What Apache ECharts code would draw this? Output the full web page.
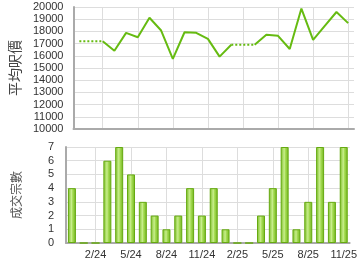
<!DOCTYPE html>
<html><head><meta charset="utf-8">
<script src="https://cdn.jsdelivr.net/npm/echarts@6/dist/echarts.min.js"></script>
<style>html,body{margin:0;padding:0;background:#fff}#c{width:360px;height:270px}</style>
</head><body><div id="c"></div>
<script>
var months = ['12/23','1/24','2/24','3/24','4/24','5/24','6/24','7/24','8/24','9/24','10/24','11/24','12/24','1/25','2/25','3/25','4/25','5/25','6/25','7/25','8/25','9/25','10/25','11/25'];
var avgPrice = [17200,null,17200,16420,17880,17520,19120,18070,15740,17930,17880,17390,15930,16900,null,16900,17720,17640,16560,19870,17310,18450,19590,18680];
var deals = [4,0,0,6,7,5,3,2,1,2,4,2,4,1,0,0,2,4,7,1,3,7,3,7];
var priceTicks = [10000,20000,1000];
var dealTicks = [0,7,1];

var green = '#66bb11';
var tickFn = function(i){ return (i - 2) % 3 === 0; };
var cjk = '"Noto Sans CJK TC","Noto Sans CJK SC",sans-serif';
var latin = 'Arial, "Liberation Sans", sans-serif';
var plain = function(v){ return String(v); };

// dotted connectors across gaps: one series per gap, only neighbours set
var gapSeries = [];
for (var i = 1; i < avgPrice.length - 1; i++) {
  if (avgPrice[i] === null && avgPrice[i-1] !== null) {
    var j = i; while (j < avgPrice.length && avgPrice[j] === null) j++;
    if (j < avgPrice.length) {
      var d = avgPrice.map(function(){return null;});
      d[i-1] = avgPrice[i-1]; d[j] = avgPrice[j];
      gapSeries.push({type:'line', xAxisIndex:0, yAxisIndex:0, data:d, connectNulls:true, symbol:'none',
        lineStyle:{color:green, width:2, type:[2,2]}, silent:true, z:2});
    }
  }
}

var xCommon = {
  type:'category', data:months, boundaryGap:true,
  axisLine:{show:true, lineStyle:{color:'#aaaaaa', width:2}},
  axisTick:{show:false, alignWithLabel:true},
  splitLine:{show:true, interval:tickFn, alignWithLabel:true, lineStyle:{color:'#dddddd', width:1}}
};

var chart = echarts.init(document.getElementById('c'), null, {renderer:'canvas'});
chart.setOption({
  animation:false,
  grid:[{left:66, right:6, top:7, height:122},{left:66, right:6, top:147, height:96}],
  xAxis:[
    Object.assign({gridIndex:0, axisLabel:{show:false}}, xCommon),
    Object.assign({gridIndex:1, axisLabel:{show:true, interval:tickFn, color:'#333', fontSize:11, fontFamily:latin, margin:6}}, xCommon)
  ],
  yAxis:[
    {gridIndex:0, type:'value', min:priceTicks[0], max:priceTicks[1], interval:priceTicks[2],
     name:'平均呎價', nameLocation:'middle', nameRotate:90, nameGap:44,
     nameTextStyle:{fontFamily:cjk, fontSize:14, color:'#444'},
     axisLine:{show:true, lineStyle:{color:'#aaaaaa', width:2}}, axisTick:{show:false},
     axisLabel:{color:'#333', fontSize:11, fontFamily:latin, margin:10, formatter:plain},
     splitLine:{show:true, lineStyle:{color:'#dddddd'}}},
    {gridIndex:1, type:'value', min:dealTicks[0], max:dealTicks[1], interval:dealTicks[2],
     name:'成交宗數', nameLocation:'middle', nameRotate:90, nameGap:44,
     nameTextStyle:{fontFamily:cjk, fontSize:12, color:'#555'},
     axisLine:{show:true, lineStyle:{color:'#aaaaaa', width:2}}, axisTick:{show:false},
     axisLabel:{color:'#333', fontSize:11, fontFamily:latin, margin:12, formatter:plain},
     splitLine:{show:true, lineStyle:{color:'#dddddd'}}}
  ],
  series:[
    {type:'line', xAxisIndex:0, yAxisIndex:0, data:avgPrice, connectNulls:false, symbol:'none',
     lineStyle:{color:green, width:2}, z:3}
  ].concat(gapSeries).concat([
    {type:'bar', xAxisIndex:1, yAxisIndex:1, data:deals, barWidth:8,
     itemStyle:{
       color:new echarts.graphic.LinearGradient(0,0,1,0,[
         {offset:0, color:'#77bb22'},{offset:0.45, color:'#c8ee8c'},{offset:0.6, color:'#a6dc55'},{offset:1, color:'#6fb31a'}]),
       borderColor:'#66aa11', borderWidth:1}}
  ])
});
</script></body></html>
